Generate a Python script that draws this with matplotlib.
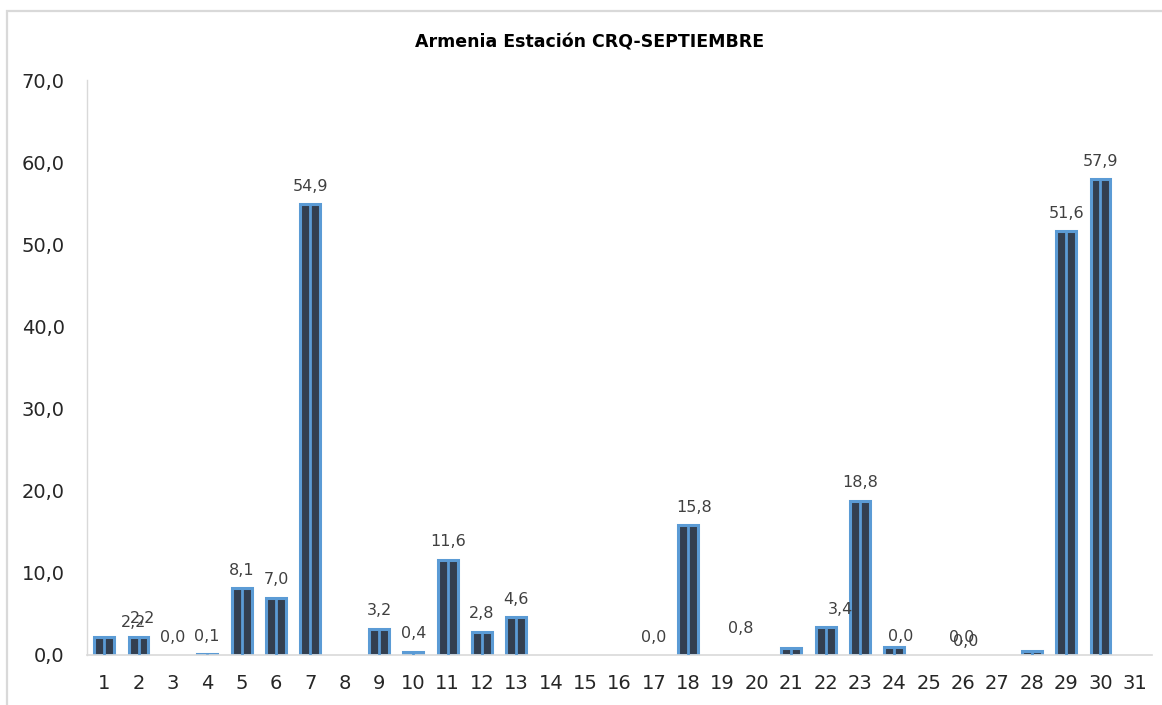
import numpy as np
import matplotlib
matplotlib.use('Agg')
import matplotlib.pyplot as plt
from matplotlib.patches import Rectangle

plt.rcParams['font.family'] = ['DejaVu Sans']

# datos de precipitacion diaria (mm)
days = list(range(1, 32))
rain = [2.2, 2.2, 0.0, 0.1, 8.1, 7.0, 54.9, 0.0, 3.2, 0.4,
        11.6, 2.8, 4.6, 0.0, 0.0, 0.0, 0.0, 15.8, 0.0, 0.0,
        0.8, 3.4, 18.8, 1.0, 0.0, 0.0, 0.0, 0.5, 51.6, 57.9, 0.0]
labels = ['2,2', '2,2', '0,0', '0,1', '8,1', '7,0', '54,9', None, '3,2', '0,4',
          '11,6', '2,8', '4,6', None, None, None, '0,0', '15,8', None, None,
          '0,8', '3,4', '18,8', '0,0', None, None, '0,0', '0,0', '51,6', '57,9', None]
y_ticks = [0, 10, 20, 30, 40, 50, 60, 70]

# etiquetas movidas a mano en el grafico original (pixeles)
label_shift = {1: (29, -4), 2: (4, 0), 21: (-51, 2), 22: (15, 0),
               24: (6, -8), 27: (-36, 0), 28: (-66, -9), 18: (6, 0)}

edge = '#5B9BD5'
fill = '#333F50'

fig = plt.figure(figsize=(11.62, 7.05), dpi=100)
ax = fig.add_axes([87 / 1162, 50 / 705, (1152 - 87) / 1162, (655 - 80) / 705])

fig.patches.append(Rectangle((7 / 1162, -0.05), 1.1, 0.05 + (705 - 11) / 705,
                             transform=fig.transFigure, fill=False,
                             edgecolor='#D9D9D9', linewidth=1.6))

d = np.array(days)
r = np.array(rain)
m = r > 0
ax.bar(d[m], r[m], width=0.58, color=fill, edgecolor=edge, linewidth=2.2, zorder=2)
ax.vlines(d[m], 0, r[m], color=edge, linewidth=2.0, zorder=3)

for day, val, lab in zip(days, rain, labels):
    if lab is None:
        continue
    dx, dy = label_shift.get(day, (0, 0))
    ax.annotate(lab, (day, val), xytext=(dx, 18 + dy), textcoords='offset pixels',
                ha='center', va='center', fontsize=11.5, color='#404040', zorder=4)

ax.set_xlim(0.5, 31.5)
ax.set_ylim(0, 70)
ax.set_xticks(days)
ax.set_xticklabels([str(x) for x in days])
ax.set_yticks(y_ticks)
ax.set_yticklabels([f'{v:.1f}'.replace('.', ',') for v in y_ticks])
ax.tick_params(axis='both', length=0, labelsize=14, colors='#262626')
ax.tick_params(axis='y', pad=16)
ax.tick_params(axis='x', pad=14)
for s in ['top', 'right']:
    ax.spines[s].set_visible(False)
ax.spines['left'].set_color('#D9D9D9')
ax.spines['bottom'].set_color('#D9D9D9')
ax.spines['left'].set_linewidth(1.0)
ax.spines['bottom'].set_linewidth(1.2)

fig.text(590 / 1162, 1 - 42 / 705, 'Armenia Estación CRQ-SEPTIEMBRE', ha='center', va='center',
         fontsize=12.5, fontweight='bold', color='#000000')

fig.savefig('out.png', dpi=100)
